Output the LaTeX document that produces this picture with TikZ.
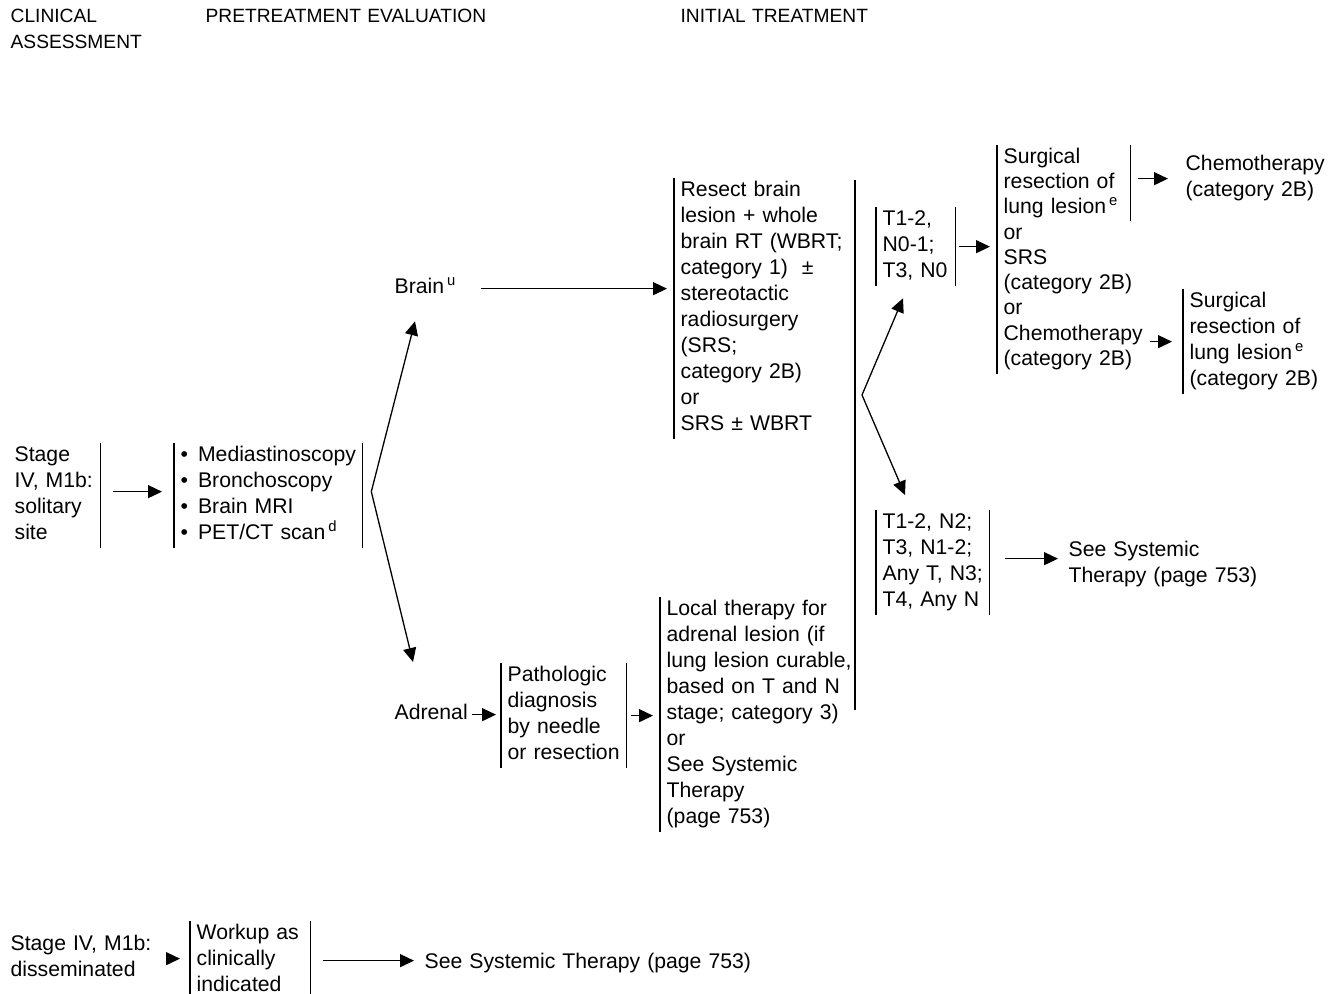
\documentclass[tikz,border=0pt]{standalone}
\usepackage{fontspec}
\setmainfont{Liberation Sans}
\usetikzlibrary{arrows.meta}
\newcommand\fbody{\fontsize{10.6pt}{13pt}\selectfont}
\newcommand\ftight{\fontsize{10.6pt}{12.5pt}\selectfont}
\newcommand\fhead{\fontsize{9.6pt}{13pt}\selectfont}
\begin{document}
\begin{tikzpicture}[x=0.5pt, y=-0.5pt, line width=0.65pt,
  lbl/.style={anchor=north west, inner sep=0pt, font=\fbody,
    execute at begin node=\strut},
  txt/.style={lbl, align=left, text width=#1, execute at end node=\strut},
  txt/.default=180pt,
  hd/.style={txt, font=\fhead},
  lbar/.style={append after command={([xshift=-3pt]\tikzlastnode.north west) edge ([xshift=-3pt]\tikzlastnode.south west)}},
  rbar/.style={append after command={(\tikzlastnode.north east) edge (\tikzlastnode.south east)}},
  arr/.style={-{Triangle[length=7pt,width=6.5pt]}}]
\useasboundingbox (0,0) rectangle (1339,994);

\node[hd] (h1) at (10,4) {CLINICAL\\ASSESSMENT};
\node[hd] (h2) at (205,4) {PRETREATMENT EVALUATION};
\node[hd] (h3) at (680,4) {INITIAL TREATMENT};

\node[txt=42.5pt, rbar] (st) at (14,443) {Stage\\IV, M1b:\\solitary\\site};
\node[txt=90.5pt, lbar, rbar] (ev) at (180,443) {\textbullet\kern5pt Mediastinoscopy\\\textbullet\kern5pt Bronchoscopy\\\textbullet\kern5pt Brain MRI\\\textbullet\kern5pt PET/CT scan\kern1.5pt\textsuperscript{d}};
\node[lbl] (br) at (394,275) {Brain\kern1.5pt\textsuperscript{u}};
\node[lbl] (ad) at (394,701) {Adrenal};
\node[txt, lbar] (rs) at (680,178) {Resect brain\\lesion + whole\\brain RT (WBRT;\\category 1)~~±\\stereotactic\\radiosurgery\\(SRS;\\category 2B)\\or\\SRS ± WBRT};
\node[txt=59pt, lbar, rbar] (pd) at (507,663) {Pathologic\\diagnosis\\by needle\\or resection};
\node[txt, lbar] (lt) at (666,597) {Local therapy for\\adrenal lesion (if\\lung lesion curable,\\based on T and N\\stage; category 3)\\or\\See Systemic\\Therapy\\(page 753)};

\coordinate (bt) at (855,180);
\coordinate (bb) at (855,710);
\coordinate (s1) at ([xshift=4.5pt,yshift=2pt]ev.east);
\coordinate (s2) at (862,395);

\node[txt=36pt, lbar, rbar] (n1) at (882,207) {T1-2,\\N0-1;\\T3, N0};
\node[txt=53pt, lbar, rbar] (n2) at (882,510) {T1-2, N2;\\T3, N1-2;\\Any T, N3;\\T4, Any N};
\node[txt=63pt, lbar, rbar, font=\ftight] (sa) at (1003,145) {Surgical\\resection of\\lung lesion\kern1.5pt\textsuperscript{e}};
\node[txt, lbar, font=\ftight] (sb) at (sa.south west) {or\\SRS\\(category 2B)\\or};
\node[txt=71pt, lbar, font=\ftight] (sc) at (sb.south west) {Chemotherapy\\(category 2B)};
\node[txt] (c1) at (1185,152) {Chemotherapy\\(category 2B)};
\node[txt, lbar] (sr) at (1189,289) {Surgical\\resection of\\lung lesion\kern1.5pt\textsuperscript{e}\\(category 2B)};
\node[txt] (sy) at (1068,538) {See Systemic\\Therapy (page 753)};

\node[txt=72pt] (ds) at (10,932) {Stage IV, M1b:\\disseminated};
\node[txt=56.5pt, lbar, rbar] (wu) at (196,921) {Workup as\\clinically\\indicated};
\node[txt] (sz) at (424,950) {See Systemic Therapy (page 753)};

\draw[arr, shorten <=6.5pt, shorten >=9pt] ([yshift=2pt]st.east) -- ([yshift=2pt]st.east -| ev.west);
\draw[arr] (s1) -- ([xshift=10.5pt,yshift=-9.5pt]br.south west);
\draw[arr] (s1) -- ([xshift=9.5pt,yshift=19.5pt]ad.north west);
\draw[arr, shorten <=12pt, shorten >=6.5pt] (br.east) -- (br.east -| rs.west);
\draw[arr, shorten <=2pt, shorten >=5.5pt] (ad.east) -- (ad.east -| pd.west);
\draw[arr, shorten <=2.5pt, shorten >=6.5pt] (pd.east) -- (pd.east -| lt.west);
\draw (bt) -- (bb);
\draw[arr] (s2) -- ([xshift=10.5pt,yshift=-6pt]n1.south west);
\draw[arr] (s2) -- ([xshift=11.5pt,yshift=7.5pt]n2.north west);
\draw[arr, shorten <=2pt, shorten >=6.5pt] (n1.east) -- (n1.east -| sa.west);
\draw[arr, shorten <=4pt, shorten >=8.5pt] (c1.west -| sa.east) -- (c1.west);
\draw[arr, shorten <=2pt, shorten >=8.5pt] (sr.west -| sc.east) -- (sr.west);
\draw[arr, shorten <=8pt, shorten >=5pt] ([yshift=2pt]n2.east) -- ([yshift=2pt]n2.east -| sy.west);
\draw[arr, shorten <=5.5pt, shorten >=8pt] (ds.east) -- (ds.east -| wu.west);
\draw[arr, shorten <=6.5pt, shorten >=5pt] (wu.east) -- (wu.east -| sz.west);
\end{tikzpicture}
\end{document}
